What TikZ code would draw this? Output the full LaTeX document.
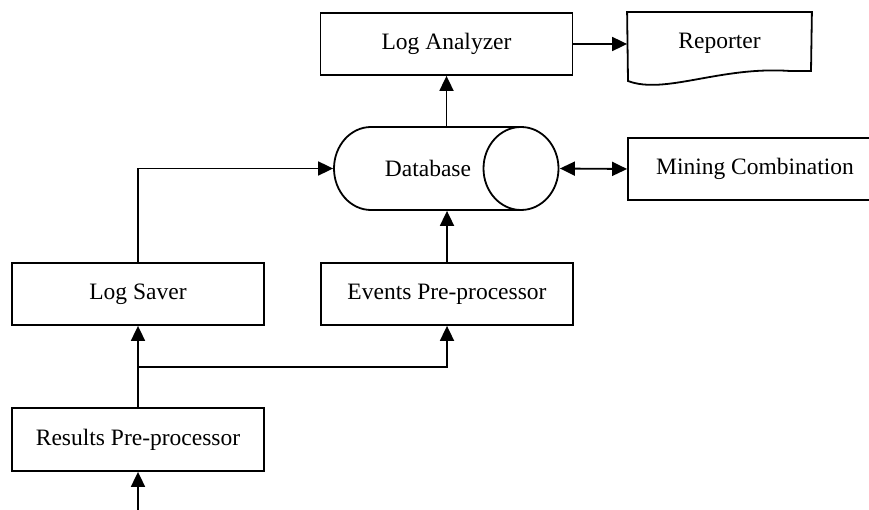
\documentclass[tikz,border=0pt]{standalone}
\usepackage{fontspec}
\setmainfont{Liberation Serif}
\usepackage{tikz}
\usetikzlibrary{arrows.meta}

\begin{document}
\begin{tikzpicture}[x=1pt,y=-1pt,line width=1.8pt,
    font=\fontsize{23.5}{28}\selectfont,
    blk/.style={draw,rectangle,minimum width=252pt,minimum height=62pt,inner sep=0pt},
    flow/.style={-{Triangle[length=15pt,width=14pt]}},
    both/.style={{Triangle[length=15pt,width=14pt]}-{Triangle[length=15pt,width=14pt]}}]
      \useasboundingbox (0,0) rectangle (869,510);
      \node[blk] (la) at (446.5,44) {Log Analyzer};
      \node[minimum width=183pt,minimum height=60pt,inner sep=0pt] (rep) at (719.5,43) {Reporter};
      \draw (rep.north west) -- (rep.north east) -- (811,71) -- (790,71)
            .. controls (720,66) and (665,95) .. (628,81) -- cycle;
      \node[minimum width=225pt,minimum height=83pt,inner sep=0pt] (db) at (446.5,168.5) {};
      \draw (371,127) -- (521,127) (371,210) -- (521,210);
      \draw (371,127) arc[start angle=90,end angle=270,x radius=37pt,y radius=41.5pt];
      \draw (521,168.5) ellipse[x radius=37.5pt,y radius=41.5pt];
      \node at (428,168.5) {Database};
      \node[blk,minimum width=254pt] (mc) at (755,169) {Mining Combination};
      \node[blk] (ls) at (138,294) {Log Saver};
      \node[blk] (ep) at (447,294) {Events Pre-processor};
      \node[blk,minimum height=63pt] (rp) at (138,439.5) {Results Pre-processor};
      \coordinate (j) at (138,367);
      \coordinate (in) at (138,510);
      \draw[flow] (in) -- (rp.south);
      \draw[flow] (rp.north) -- (ls.south);
      \draw[flow] (j) -| (ep.south);
      \draw[flow] (ls.north) |- (db.west);
      \draw[flow] (ep.north) -- (ep.north |- db.south);
      \draw[flow] (db.north) -- (db.north |- la.south);
      \draw[flow] (la.east) -- (la.east -| rep.west);
      \draw[both] (db.east) -- (mc.west);
    \end{tikzpicture}
\end{document}
